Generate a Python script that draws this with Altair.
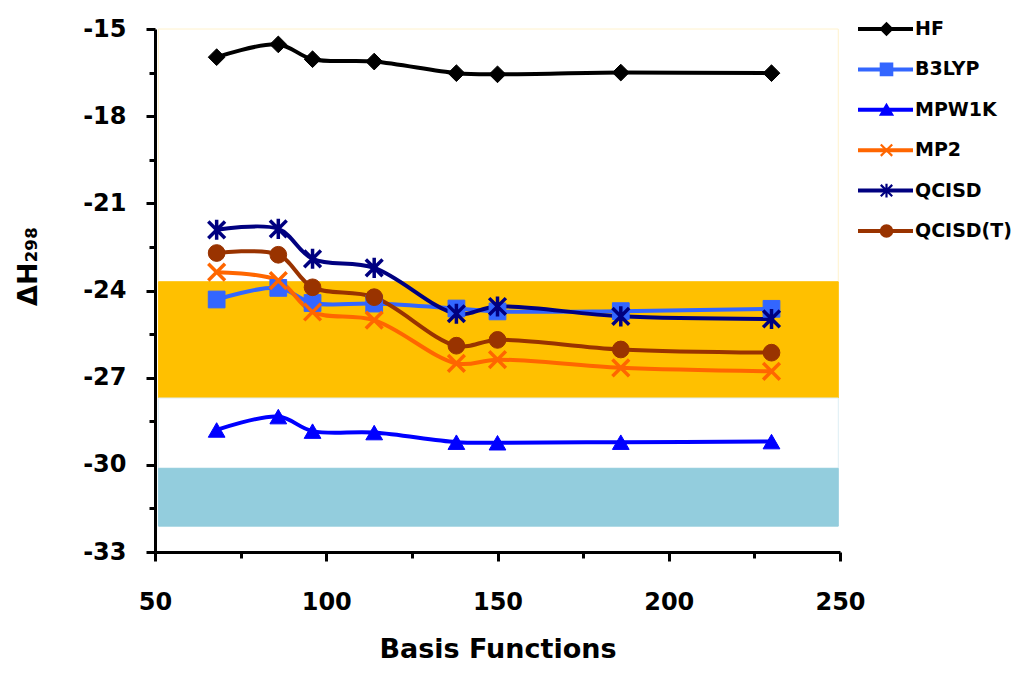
import altair as alt
import pandas as pd

# ---- data ----
basis = [68, 86, 96, 114, 138, 150, 186, 230]
methods = ["HF", "B3LYP", "MPW1K", "MP2", "QCISD", "QCISD(T)"]
hf = [-15.97, -15.53, -16.04, -16.12, -16.52, -16.56, -16.50, -16.52]
b3lyp = [-24.31, -23.91, -24.43, -24.45, -24.62, -24.72, -24.71, -24.63]
mpw1k = [-28.80, -28.34, -28.84, -28.89, -29.22, -29.24, -29.22, -29.20]
mp2 = [-23.37, -23.66, -24.74, -25.02, -26.51, -26.38, -26.66, -26.78]
qcisd = [-21.91, -21.88, -22.91, -23.22, -24.80, -24.55, -24.89, -24.98]
qcisdt = [-22.71, -22.77, -23.89, -24.23, -25.90, -25.70, -26.03, -26.14]
series_values = [hf, b3lyp, mpw1k, mp2, qcisd, qcisdt]

colors = ["#000000", "#3366FF", "#0000FF", "#FF6600", "#000080", "#993300"]
shapes = ["diamond", "square", "triangle-up",
          "M-1,-1L1,1M-1,1L1,-1",
          "M-1,-1L1,1M-1,1L1,-1M0,-1.2L0,1.2",
          "circle"]
# series drawn with stroked (line-only) markers
stroked_markers = ["MP2", "QCISD"]

# reference bands (x from, x to, y low, y high)
band_x = [51, 249.5]
band_lo = [-23.7, -27.7, -30.12, -32.11]
band_hi = [-15.0, -23.7, -27.7, -30.12]
band_fill = ["#FFFFFF", "#FFC000", "#FFFFFF", "#93CDDD"]
band_stroke = ["#FFF2CC", "#FFC000", "#DDEEF4", "#93CDDD"]

x_ticks = [50, 75, 100, 125, 150, 175, 200, 225, 250]
y_ticks = [-33 + 1.5 * i for i in range(13)]

FONT = "DejaVu Sans"

# line legend uses the names with a trailing space so that it is kept apart
# from the marker legend (which is drawn on top of it, without labels)
line_names = [m + " " for m in methods]

rows = []
for m, lm, vals in zip(methods, line_names, series_values):
    for b, v in zip(basis, vals):
        rows.append({"basis": b, "dH": v, "method": m, "series": lm})
df = pd.DataFrame(rows)

x_scale = alt.Scale(domain=[50, 250], nice=False, zero=False)
y_scale = alt.Scale(domain=[-33, -15], nice=False, zero=False)

x_axis = alt.Axis(
    values=x_ticks,
    labelExpr="datum.value % 50 === 0 ? '' + datum.value : ''",
    tickSize={"condition": {"test": "datum.value % 50 === 0", "value": 9}, "value": 6},
    tickWidth=3, tickColor="black", domainColor="black", domainWidth=3,
    labelFont=FONT, labelFontSize=24, labelFontWeight="bold", labelColor="black",
    labelPadding=29, labelFlush=False,
    title="Basis Functions", titleFont=FONT, titleFontSize=27,
    titleFontWeight="bold", titleColor="black", titlePadding=22, grid=False,
)
y_axis = alt.Axis(
    values=y_ticks,
    labelExpr="datum.value % 3 === 0 ? '' + datum.value : ''",
    tickSize={"condition": {"test": "datum.value % 3 === 0", "value": 9}, "value": 6},
    tickWidth=3, tickColor="black", domainColor="black", domainWidth=3,
    labelFont=FONT, labelFontSize=24, labelFontWeight="bold", labelColor="black",
    labelPadding=20, labelFlush=False,
    title="ΔH₂₉₈", titleFont=FONT, titleFontSize=27, titleFontWeight="bold",
    titleColor="black", titleX=-127, titleY=237, titleBaseline="middle",
    titleAngle=270, grid=False,
)

layers = []
for i in range(len(band_lo)):
    bdf = pd.DataFrame({"x0": [band_x[0]], "x1": [band_x[1]],
                        "lo": [band_lo[i]], "hi": [band_hi[i]]})
    layers.append(
        alt.Chart(bdf).mark_rect(fill=band_fill[i], stroke=band_stroke[i], strokeWidth=1)
        .encode(x=alt.X("x0:Q", scale=x_scale, axis=x_axis), x2="x1:Q",
                y=alt.Y("lo:Q", scale=y_scale, axis=y_axis), y2="hi:Q")
    )

common_legend = dict(orient="none", legendX=701, legendY=-10, title=None, padding=0,
                     labelFont=FONT, labelFontSize=19, labelFontWeight="bold",
                     labelColor="black", labelLimit=300, clipHeight=20, rowPadding=20.4)

lines = alt.Chart(df).mark_line(strokeWidth=4, interpolate="catmull-rom").encode(
    x=alt.X("basis:Q", scale=x_scale, axis=x_axis),
    y=alt.Y("dH:Q", scale=y_scale, axis=y_axis),
    color=alt.Color("series:N", scale=alt.Scale(domain=line_names, range=colors),
                    legend=alt.Legend(symbolType="stroke", symbolSize=3025,
                                      symbolStrokeWidth=4, labelOffset=0,
                                      **common_legend)),
)

pt_legend = alt.Legend(symbolSize=130, symbolStrokeWidth=2.2, symbolOffset=21,
                       labelExpr="''", labelOffset=5, **common_legend)


def point_layer(stroke_width, keep_stroked):
    pred = alt.FieldOneOfPredicate(field="method", oneOf=stroked_markers)
    base = alt.Chart(df).transform_filter(pred if keep_stroked else ~alt.Predicate(pred))
    return base.mark_point(filled=True, size=280, opacity=1, strokeWidth=stroke_width).encode(
        x=alt.X("basis:Q", scale=x_scale, axis=x_axis),
        y=alt.Y("dH:Q", scale=y_scale, axis=y_axis),
        fill=alt.Fill("method:N", scale=alt.Scale(domain=methods, range=colors), legend=pt_legend),
        stroke=alt.Stroke("method:N", scale=alt.Scale(domain=methods, range=colors), legend=pt_legend),
        shape=alt.Shape("method:N", scale=alt.Scale(domain=methods, range=shapes), legend=pt_legend),
    )


points_filled = point_layer(1, False)
points_stroked = point_layer(3.5, True)

chart = alt.layer(*layers, lines, points_filled, points_stroked).properties(
    width=685, height=523,
    autosize=alt.AutoSizeParams(type="none"),
    padding={"left": 147, "top": 21, "right": 172, "bottom": 111},
    background="white",
).configure_view(stroke=None)

chart.save("out.html", embed_options={"renderer": "svg", "actions": False})
